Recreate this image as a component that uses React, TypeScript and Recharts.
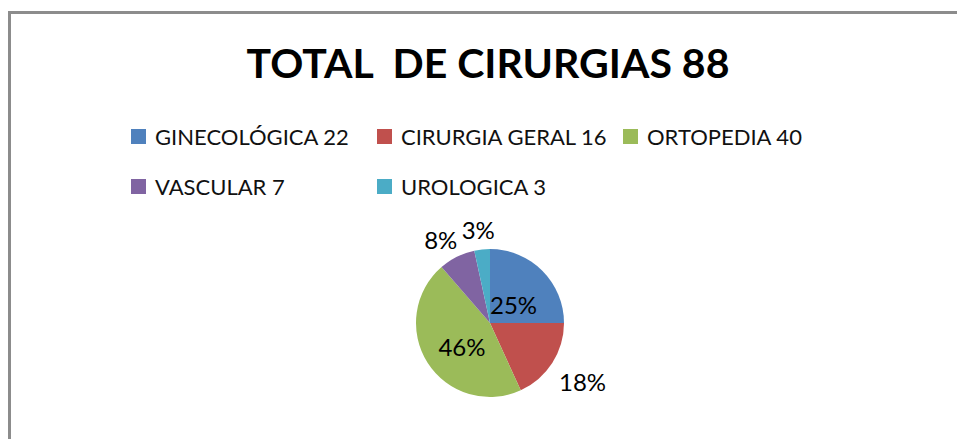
import { PieChart, Pie, Cell, Legend } from "recharts";

const categories = ["GINECOLÓGICA", "CIRURGIA GERAL", "ORTOPEDIA", "VASCULAR", "UROLOGICA"];
const counts = [22, 16, 40, 7, 3];
const percentLabels = ["25%", "18%", "46%", "8%", "3%"];
const colors = ["#4F81BD", "#C0504D", "#9BBB59", "#8064A2", "#4BACC6"];
const title = "TOTAL  DE CIRURGIAS 88";

const data = categories.map((name, i) => ({
    name: `${name} ${counts[i]}`,
    value: counts[i],
    label: percentLabels[i],
}));

const RADIAN = Math.PI / 180;
const FONT = "Lato, 'Open Sans', sans-serif";

function renderLabel(props: any) {
    const { cx, cy, midAngle, outerRadius, percent, index } = props;
    const cos = Math.cos(-midAngle * RADIAN);
    const sin = Math.sin(-midAngle * RADIAN);
    let x: number;
    let y: number;
    if (percent > 0.2) {
        const r = outerRadius * 0.45;
        x = cx + r * cos;
        y = cy + r * sin + 5;
    } else {
        const r = outerRadius + 12;
        x = cx + r * cos + cos * 24;
        y = cy + r * sin + sin * 13 + 5;
    }
    return (
        <text
            x={x}
            y={y}
            fill="#000"
            fontSize={24}
            fontFamily={FONT}
            textAnchor="middle"
            dominantBaseline="central"
        >
            {percentLabels[index]}
        </text>
    );
}

function renderLegend() {
    return (
        <div
            style={{
                display: "grid",
                gridTemplateColumns: "repeat(3, 246px)",
                gridAutoRows: "50px",
                fontFamily: FONT,
                fontSize: 22,
                color: "#111",
            }}
        >
            {data.map((d, i) => (
                <div key={d.name} style={{ display: "flex", alignItems: "center", whiteSpace: "nowrap" }}>
                    <span
                        style={{
                            width: 15,
                            height: 15,
                            background: colors[i],
                            marginRight: 9,
                            flex: "none",
                        }}
                    />
                    <span>{d.name}</span>
                </div>
            ))}
        </div>
    );
}

export default function App() {
    return (
        <div
            style={{
                position: "absolute",
                left: 8,
                top: 11,
                width: 949,
                height: 428,
                boxSizing: "border-box",
                borderTop: "3px solid #8c8c8c",
                borderLeft: "3px solid #8c8c8c",
                background: "#fff",
                overflow: "hidden",
            }}
        >
            <PieChart width={946} height={425}>
                <text
                    x={477}
                    y={64}
                    textAnchor="middle"
                    fontFamily={FONT}
                    fontWeight="bold"
                    fontSize={41}
                    fill="#000"
                    style={{ whiteSpace: "pre" }}
                >
                    {title}
                </text>
                <Legend
                    content={renderLegend}
                    wrapperStyle={{ top: 97, left: 120, width: 760, bottom: "auto" }}
                />
                <Pie
                    data={data}
                    dataKey="value"
                    cx={474}
                    cy={304}
                    outerRadius={74}
                    startAngle={90}
                    endAngle={-270}
                    stroke="none"
                    label={renderLabel}
                    labelLine={false}
                    isAnimationActive={false}
                >
                    {data.map((d, i) => (
                        <Cell key={d.name} fill={colors[i]} />
                    ))}
                </Pie>
            </PieChart>
        </div>
    );
}
